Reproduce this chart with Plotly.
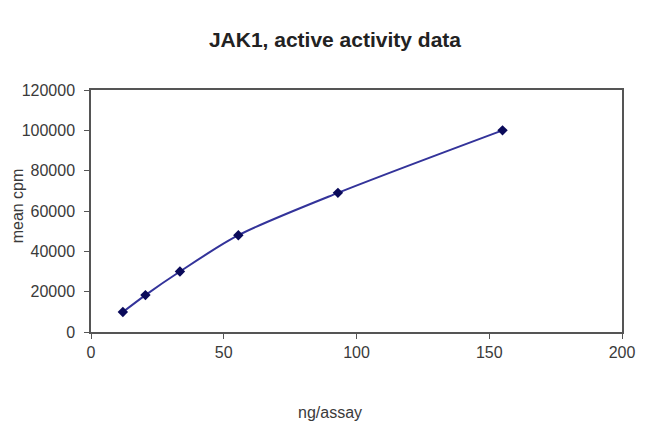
import plotly.graph_objects as go

ng_assay = [12, 20.5, 33.5, 55.5, 93, 155]
mean_cpm = [9900, 18300, 30000, 48000, 69000, 100000]
x_ticks = [0, 50, 100, 150, 200]
y_ticks = [0, 20000, 40000, 60000, 80000, 100000, 120000]

fig = go.Figure()
fig.add_trace(go.Scatter(
    x=ng_assay, y=mean_cpm, mode="lines+markers",
    line=dict(color="#33339a", width=2, shape="spline", smoothing=0.8),
    marker=dict(symbol="diamond", size=8, color="#0a0a5a"),
    showlegend=False,
))

axis_font = dict(family="Liberation Sans, Arial, sans-serif", size=16, color="#3a3a3a")
fig.update_layout(
    width=650, height=432,
    margin=dict(l=83, r=36, t=82, b=108, autoexpand=False),
    paper_bgcolor="white", plot_bgcolor="white",
    title=dict(text="<b>JAK1, active activity data</b>", x=0.503, xanchor="center",
               y=(432 - 32) / 432, yanchor="middle",
               font=dict(family="Liberation Sans, Arial, sans-serif", size=21, color="#222222")),
    font=axis_font,
    annotations=[
        dict(text="ng/assay", xref="paper", yref="paper",
             x=0.45, y=-0.331, xanchor="center", yanchor="middle",
             showarrow=False, font=axis_font),
        dict(text="mean cpm", xref="paper", yref="paper", textangle=-90,
             x=-0.139, y=0.52, xanchor="center", yanchor="middle",
             showarrow=False, font=axis_font),
    ],
)
fig.update_xaxes(
    range=[0, 200], tickvals=x_ticks, ticktext=[str(v) for v in x_ticks],
    showgrid=False, zeroline=False, showline=True, linecolor="#555555", linewidth=1.5,
    mirror=True, ticks="outside", ticklen=5, tickcolor="#555555", automargin=False,
)
fig.update_yaxes(
    range=[0, 120000], tickvals=y_ticks, ticktext=[str(v) for v in y_ticks],
    showgrid=False, zeroline=False, showline=True, linecolor="#555555", linewidth=1.5,
    mirror=True, ticks="outside", ticklen=5, tickcolor="#555555", automargin=False,
    ticklabelstandoff=6,
)
fig.write_html("out.html")
